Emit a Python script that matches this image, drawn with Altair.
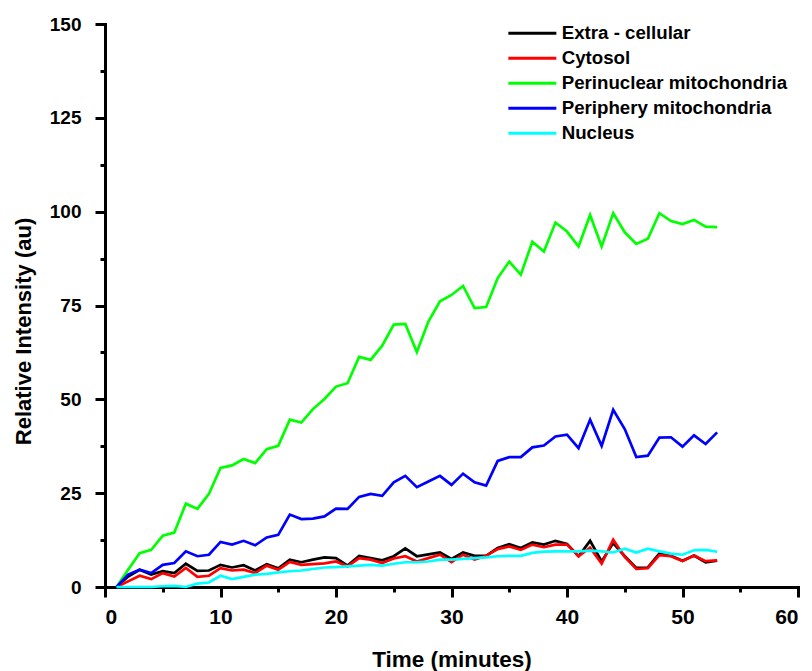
import altair as alt
import pandas as pd

time = list(range(1, 54))

extra = [0, 2.8, 4.6, 3.3, 4.2, 3.7, 6.2, 4.3, 4.4, 5.9,
         5.2, 5.8, 4.4, 6.1, 5.0, 7.3, 6.6, 7.3, 7.9, 7.7,
         5.7, 8.3, 7.7, 7.1, 8.2, 10.3, 8.2, 8.7, 9.2, 7.5,
         9.2, 8.3, 8.3, 10.4, 11.4, 10.4, 11.9, 11.3, 12.3, 11.5,
         8.2, 12.3, 6.8, 11.7, 8.2, 5.1, 5.2, 8.9, 8.3, 7.0,
         8.4, 6.6, 7.0]
cytosol = [0, 1.5, 3.0, 2.1, 3.7, 2.8, 5.1, 2.7, 3.0, 5.0,
           4.4, 4.6, 3.7, 5.7, 4.6, 6.7, 5.9, 6.1, 6.3, 6.8,
           5.5, 7.7, 7.3, 6.4, 7.6, 8.2, 6.8, 7.7, 8.6, 6.6,
           8.6, 7.3, 8.3, 10.1, 10.8, 9.9, 11.3, 10.6, 11.3, 11.3,
           8.2, 10.5, 6.2, 12.6, 8.0, 4.8, 5.0, 8.5, 8.2, 6.9,
           8.4, 6.9, 7.1]
perinuclear = [0, 4.6, 9.0, 9.9, 13.7, 14.5, 22.2, 20.8, 24.8, 31.7,
               32.4, 34.1, 33.0, 36.7, 37.6, 44.6, 43.8, 47.4, 50.1, 53.4,
               54.3, 61.3, 60.5, 64.3, 69.9, 70.1, 62.6, 70.7, 76.1, 77.8,
               80.2, 74.3, 74.6, 82.3, 86.7, 83.2, 92.0, 89.4, 97.1, 94.7,
               90.7, 99.1, 90.7, 99.6, 94.5, 91.4, 92.8, 99.6, 97.5, 96.7,
               97.8, 96.0, 95.9]
periphery = [0, 3.3, 4.6, 3.7, 5.9, 6.4, 9.5, 8.2, 8.6, 12.0,
             11.3, 12.3, 11.1, 13.2, 13.9, 19.3, 18.1, 18.2, 18.8, 20.9,
             20.8, 24.0, 24.8, 24.3, 27.9, 29.6, 26.6, 28.1, 29.6, 27.2,
             30.2, 27.9, 27.0, 33.6, 34.6, 34.6, 37.2, 37.7, 40.1, 40.6,
             37.0, 44.6, 37.6, 47.2, 42.1, 34.6, 35.0, 39.8, 39.9, 37.4,
             40.4, 38.1, 41.2]
nucleus = [0, 0, 0, 0, 0.2, 0.3, 0, 0.9, 1.2, 3.0,
           2.1, 2.7, 3.3, 3.5, 3.9, 4.2, 4.4, 4.8, 5.2, 5.3,
           5.5, 5.7, 5.9, 5.7, 6.2, 6.6, 6.6, 6.8, 7.3, 7.3,
           7.5, 7.7, 7.9, 8.2, 8.3, 8.3, 9.1, 9.4, 9.5, 9.5,
           9.5, 9.7, 9.5, 9.2, 10.2, 9.2, 10.2, 9.5, 8.9, 8.6,
           9.8, 9.9, 9.4]

series_names = ["Extra - cellular", "Cytosol", "Perinuclear mitochondria",
                "Periphery mitochondria", "Nucleus"]
series_colors = ["#000000", "#FF0000", "#00FF00", "#0000FF", "#00FFFF"]

x_major = [0, 10, 20, 30, 40, 50, 60]
x_minor = [5, 15, 25, 35, 45, 55]
y_major = [0, 25, 50, 75, 100, 125, 150]
y_minor = [12.5, 37.5, 62.5, 87.5, 112.5, 137.5]

rows = []
for name, vals in zip(series_names, [extra, cytosol, perinuclear, periphery, nucleus]):
    for t, v in zip(time, vals):
        rows.append({"Time": t, "Intensity": v, "Series": name})
df = pd.DataFrame(rows)

FONT = "Liberation Sans"
xscale = alt.Scale(domain=[0, 60], nice=False, zero=False)
yscale = alt.Scale(domain=[0, 150], nice=False, zero=False)

common_axis = dict(grid=False, tickColor="black", tickWidth=3, domainColor="black",
                   domainWidth=3, domainCap="square", labelColor="black",
                   labelFont=FONT, labelFontWeight="bold", titleFont=FONT,
                   titleFontWeight="bold", titleColor="black")

lines = alt.Chart(df).mark_line(strokeWidth=2.7).encode(
    x=alt.X("Time:Q", scale=xscale,
            axis=alt.Axis(values=x_major, orient="bottom", tickSize=10,
                          labelFontSize=21, labelPadding=9,
                          title="Time (minutes)", titleFontSize=22.5,
                          titleX=346.5, titleY=79, titleBaseline="alphabetic",
                          titleAlign="center", **common_axis)),
    y=alt.Y("Intensity:Q", scale=yscale,
            axis=alt.Axis(values=y_major, orient="left", tickSize=10,
                          labelFontSize=19, labelPadding=14,
                          title="Relative Intensity (au)", titleFontSize=22,
                          titleAngle=270, titleX=-75, titleY=307,
                          titleAlign="center", titleBaseline="alphabetic",
                          **common_axis)),
    color=alt.Color("Series:N",
                    scale=alt.Scale(domain=series_names, range=series_colors),
                    legend=alt.Legend(orient="none", legendX=418, legendY=0,
                                      title=None, symbolType="M-4.8,0H4.8",
                                      symbolSize=100, symbolStrokeWidth=3,
                                      labelFont=FONT, labelFontSize=18.7,
                                      labelFontWeight="bold", labelColor="black",
                                      labelOffset=20, rowPadding=5, padding=0,
                                      labelLimit=400)),
)

minor = alt.Chart(df).mark_point(opacity=0).encode(
    x=alt.X("Time:Q", scale=xscale,
            axis=alt.Axis(values=x_minor, orient="bottom", tickSize=5,
                          labels=False, domain=False, title=None, grid=False,
                          tickColor="black", tickWidth=3)),
    y=alt.Y("Intensity:Q", scale=yscale,
            axis=alt.Axis(values=y_minor, orient="left", tickSize=5,
                          labels=False, domain=False, title=None, grid=False,
                          tickColor="black", tickWidth=3)),
)

chart = alt.layer(lines, minor).resolve_axis(
    x="independent", y="independent"
).properties(
    width=693, height=563,
    autosize=alt.AutoSizeParams(type="none"),
    padding={"left": 105, "top": 24, "right": 14, "bottom": 84},
    background="white",
).configure_view(stroke=None)

chart.save("out.html", embed_options={"renderer": "svg", "actions": False})
